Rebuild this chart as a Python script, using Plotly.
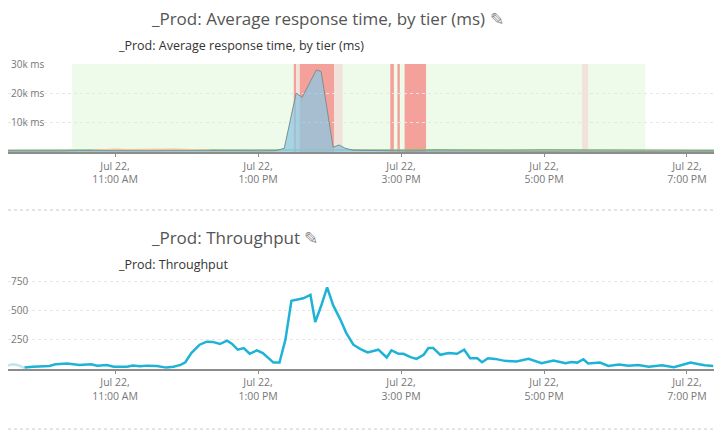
import plotly.graph_objects as go

DAY = "2024-07-22 "

# --- Average response time, by tier (ms) ---
resp_times = ["09:28", "09:45", "10:00", "10:15", "10:30", "10:45", "11:00", "11:15",
              "11:30", "11:45", "12:00", "12:15", "12:30", "12:45", "13:00", "13:15",
              "13:22", "13:32", "13:37", "13:49", "13:53", "14:03", "14:08", "14:13",
              "14:20", "14:35", "14:50", "15:05", "15:20", "15:35", "15:50", "16:05",
              "16:20", "16:35", "16:50", "17:05", "17:20", "17:35", "17:50", "18:05",
              "18:20", "18:35", "18:50", "19:05", "19:23"]
resp_values = [350, 300, 400, 350, 450, 400, 500, 450, 400, 450, 500, 450, 400, 450, 400, 450,
               1260, 20100, 18600, 28000, 27400, 1600, 2400, 1300, 600, 450, 400, 350, 400,
               350, 300, 350, 300, 350, 300, 300, 350, 300, 300, 250, 300, 250, 300, 250, 300]

green_times = ["09:28", "10:00", "10:30", "11:00", "11:30", "12:00", "12:30", "13:00",
               "13:20", "14:20", "15:00", "15:30", "16:00", "16:30", "17:00", "17:30",
               "18:00", "18:30", "19:00", "19:23"]
green_values = [600, 650, 700, 900, 750, 800, 700, 650, 700, 650, 700, 800, 650, 700, 750,
                700, 650, 600, 650, 600]

orange_times = ["10:40", "10:50", "11:00", "11:10", "11:20", "11:35", "11:50", "12:05", "12:20"]
orange_values = [600, 750, 950, 800, 900, 850, 950, 800, 650]

# alert windows shown behind the response-time chart
ok_window = ("10:24", "18:25")
alert_windows = [("13:30", "13:32", "critical"), ("13:32", "13:35", "warning"),
                 ("13:35", "14:04", "critical"), ("14:04", "14:11", "warning"),
                 ("14:51", "14:54", "critical"), ("14:57", "14:59", "critical"),
                 ("15:03", "15:21", "critical"), ("17:32", "17:37", "warning")]

# --- Throughput ---
thr_pre_times = ["09:30", "09:34", "09:38", "09:44"]
thr_pre_values = [30, 40, 35, 10]

thr_times = ["09:44", "09:51", "10:05", "10:10", "10:20", "10:30", "10:40", "10:45", "10:53",
             "10:59", "11:10", "11:15", "11:21", "11:27", "11:35", "11:43", "11:49", "11:55",
             "11:59", "12:04", "12:11", "12:17", "12:22", "12:28", "12:34", "12:38", "12:43",
             "12:48", "12:53", "12:59", "13:04", "13:10", "13:13", "13:18", "13:23", "13:28",
             "13:32", "13:38", "13:44", "13:48", "13:53", "13:58", "14:03", "14:09", "14:14",
             "14:20", "14:26", "14:32", "14:41", "14:48", "14:52", "14:58", "15:02", "15:08",
             "15:13", "15:19", "15:23", "15:27", "15:33", "15:40", "15:47", "15:53", "15:58",
             "16:04", "16:08", "16:13", "16:19", "16:27", "16:37", "16:47", "16:58", "17:08",
             "17:18", "17:23", "17:28", "17:33", "17:37", "17:47", "17:54", "18:03", "18:11",
             "18:19", "18:28", "18:39", "18:49", "18:56", "19:03", "19:10", "19:15", "19:22"]
thr_values = [12, 20, 26, 41, 47, 35, 41, 29, 35, 20, 20, 29, 23, 29, 26, 12, 20, 35,
              58, 137, 209, 235, 233, 215, 244, 218, 166, 180, 131, 160, 137, 78, 55, 55,
              253, 587, 596, 608, 637, 404, 544, 703, 549, 427, 311, 209, 171, 142, 166,
              99, 160, 131, 131, 102, 87, 122, 180, 180, 122, 137, 131, 166, 93, 93, 58,
              93, 87, 70, 64, 87, 49, 73, 49, 61, 55, 84, 47, 55, 26, 38, 29, 35, 20,
              32, 15, 35, 55, 41, 32, 26]

tick_times = ["11:00", "13:00", "15:00", "17:00", "19:00"]
tick_labels = ["Jul 22,<br>11:00 AM", "Jul 22,<br>1:00 PM", "Jul 22,<br>3:00 PM",
               "Jul 22,<br>5:00 PM", "Jul 22,<br>7:00 PM"]
resp_ticks = [10000, 20000, 30000]
resp_tick_labels = ["10k ms", "20k ms", "30k ms"]
thr_ticks = [250, 500, 750]
thr_tick_labels = ["250", "500", "750"]


def ts(times):
    return [DAY + t for t in times]


FONT = "Open Sans, Noto Sans, sans-serif"
# the page body has an 8px margin, so the figure is a bit smaller than the window
OFF = 8
W, H = 716, 431
L, R = 0, 10


def px_x(x):
    # page pixel -> paper coordinate
    return (x - OFF - L) / (W - L - R)


def px_y(y):
    return 1 - (y - OFF) / H


fig = go.Figure()

fig.add_trace(go.Scatter(x=ts(green_times), y=green_values, mode="lines",
                         line=dict(color="#8fb878", width=1.5), xaxis="x", yaxis="y",
                         showlegend=False, hoverinfo="skip"))
fig.add_trace(go.Scatter(x=ts(orange_times), y=orange_values, mode="lines",
                         line=dict(color="#efc29c", width=1.2), xaxis="x", yaxis="y",
                         showlegend=False, hoverinfo="skip"))
fig.add_trace(go.Scatter(x=ts(resp_times), y=resp_values, mode="lines", fill="tozeroy",
                         fillcolor="rgba(140,200,225,0.75)",
                         line=dict(color="#7f8f8c", width=1), xaxis="x", yaxis="y",
                         showlegend=False))

fig.add_trace(go.Scatter(x=ts(thr_pre_times), y=thr_pre_values, mode="lines",
                         line=dict(color="#bfe5f1", width=2.5), xaxis="x2", yaxis="y2",
                         showlegend=False, hoverinfo="skip"))
fig.add_trace(go.Scatter(x=ts(thr_times), y=thr_values, mode="lines",
                         line=dict(color="#1eb3d6", width=2.5), xaxis="x2", yaxis="y2",
                         showlegend=False))

shapes = [dict(type="rect", xref="x", yref="y domain", x0=DAY + ok_window[0],
               x1=DAY + ok_window[1], y0=0, y1=1, fillcolor="#eefaea",
               line=dict(width=0), layer="below")]
for a, b, kind in alert_windows:
    shapes.append(dict(type="rect", xref="x", yref="y domain", x0=DAY + a, x1=DAY + b,
                       y0=0, y1=1, line=dict(width=0), layer="below",
                       fillcolor="#f5a19b" if kind == "critical" else "#f1e3da"))
# dotted separators between the panels
for y in (210, 429):
    shapes.append(dict(type="line", xref="paper", yref="paper", x0=0, x1=1,
                       y0=px_y(y), y1=px_y(y), line=dict(color="#c8c8c8", width=1, dash="dot")))

annotations = [
    dict(text="_Prod: Average response time, by tier (ms) <span style='color:#888'>✎</span>",
         x=px_x(149), y=px_y(18), font=dict(size=17, color="#555", family=FONT)),
    dict(text="_Prod: Average response time, by tier (ms)",
         x=px_x(116), y=px_y(45), font=dict(size=12.5, color="#333", family=FONT)),
    dict(text="_Prod: Throughput <span style='color:#888'>✎</span>",
         x=px_x(149), y=px_y(238), font=dict(size=17, color="#555", family=FONT)),
    dict(text="_Prod: Throughput",
         x=px_x(116), y=px_y(264), font=dict(size=12.5, color="#333", family=FONT)),
]
for a in annotations:
    a.update(xref="paper", yref="paper", xanchor="left", yanchor="middle", showarrow=False)

xrange = [DAY + "09:30:10", DAY + "19:22:40"]
xaxis_common = dict(type="date", range=xrange, tickvals=ts(tick_times), ticktext=tick_labels,
                    showgrid=False, zeroline=False, showline=True, linecolor="#8c8c8c",
                    linewidth=2, ticks="outside", ticklen=3, tickcolor="#8c8c8c",
                    tickfont=dict(size=10.5, color="#777", family=FONT), fixedrange=True)
yaxis_common = dict(showgrid=True, gridcolor="#e6e6e6", griddash="dot", zeroline=False,
                    ticklabelposition="inside", ticklabeloverflow="allow",
                    tickfont=dict(size=10, color="#777", family=FONT), fixedrange=True)

fig.update_layout(
    width=W, height=H,
    margin=dict(l=L, r=R, t=0, b=0, autoexpand=False),
    paper_bgcolor="white", plot_bgcolor="white",
    xaxis=dict(xaxis_common, anchor="y"),
    yaxis=dict(yaxis_common, domain=[px_y(152), px_y(64)], range=[0, 30000],
               tickvals=resp_ticks, ticktext=resp_tick_labels),
    xaxis2=dict(xaxis_common, anchor="y2", linewidth=1.5),
    yaxis2=dict(yaxis_common, domain=[px_y(369), px_y(276)], range=[0, 800],
                tickvals=thr_ticks, ticktext=thr_tick_labels),
    shapes=shapes,
    annotations=annotations,
    showlegend=False,
)

fig.write_html("out.html")
